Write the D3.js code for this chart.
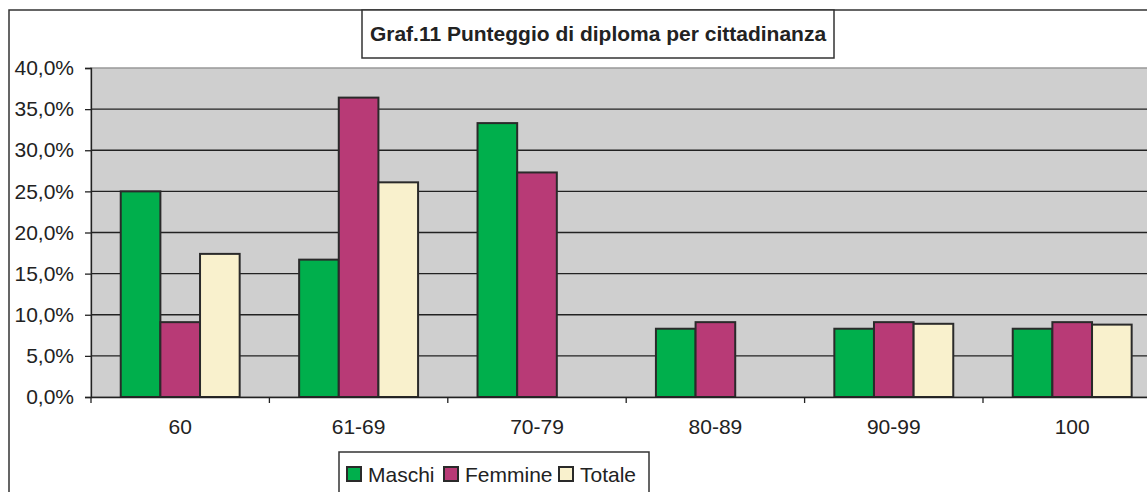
<!DOCTYPE html>
<html lang="it">
<head>
    <meta charset="UTF-8">
    <title>Graf.11</title>
    <style>
        body{
            margin:0px;
            background-color: #ffffff;
        }
        svg{
            display: block;
            font-family: "Liberation Sans", Arial, sans-serif;
        }
    </style>
</head>
<body>
    <svg></svg>

    <script src="https://d3js.org/d3.v7.min.js"></script>
    <script>
        // Data
        var categories = ["60", "61-69", "70-79", "80-89", "90-99", "100"];
        var seriesNames = ["Maschi", "Femmine", "Totale"];
        var maschi  = [25.0, 16.7, 33.3, 8.3, 8.3, 8.3];
        var femmine = [9.1, 36.4, 27.3, 9.1, 9.1, 9.1];
        var totale  = [17.4, 26.1, 0, 0, 8.9, 8.8];
        var yTicks = [0, 5, 10, 15, 20, 25, 30, 35, 40];
        var colors = ["#00af4c", "#b83a76", "#f9f1cd"];

        var width = 1147, height = 492;
        var plot = {left: 91, top: 68, bottom: 397, step: 178.4};
        var fs = "21px";

        let svg = d3.select("svg")
            .attr("width", width)
            .attr("height", height);

        // outer chart frame
        svg.append("rect")
            .attr("x", 9).attr("y", 10)
            .attr("width", 1160).attr("height", 500)
            .attr("fill", "#fff")
            .attr("stroke", "#333").attr("stroke-width", 1.5);

        var x = d3.scaleBand()
            .domain(categories)
            .range([plot.left, plot.left + plot.step * categories.length])
            .padding(0);

        // excel style gap width 150%
        var xs = d3.scaleBand()
            .domain(seriesNames)
            .range([x.bandwidth() * 1.5 / 9, x.bandwidth() * (1 - 1.5 / 9)]);

        var y = d3.scaleLinear().domain([0, 40]).range([plot.bottom, plot.top]);

        // plot background
        svg.append("rect")
            .attr("x", plot.left).attr("y", plot.top)
            .attr("width", x.range()[1] - plot.left)
            .attr("height", plot.bottom - plot.top)
            .attr("fill", "#cfcfcf")
            .attr("stroke", "#999").attr("stroke-width", 1.5);

        // gridlines
        svg.append("g")
            .selectAll("line")
            .data(yTicks.filter(d => d > 0 && d < 40))
            .join("line")
            .attr("x1", plot.left).attr("x2", x.range()[1])
            .attr("y1", d => y(d)).attr("y2", d => y(d))
            .attr("stroke", "#222").attr("stroke-width", 1.3);

        // bars
        var table = categories.map((c, i) => ({cat: c, vals: [maschi[i], femmine[i], totale[i]]}));

        svg.append("g")
            .selectAll("g")
            .data(table)
            .join("g")
            .attr("transform", d => "translate(" + x(d.cat) + ",0)")
            .selectAll("rect")
            .data(d => d.vals.map((v, j) => ({name: seriesNames[j], v: v, j: j})).filter(e => e.v > 0))
            .join("rect")
            .attr("x", d => xs(d.name))
            .attr("width", xs.bandwidth())
            .attr("y", d => y(d.v))
            .attr("height", d => y(0) - y(d.v))
            .attr("fill", d => colors[d.j])
            .attr("stroke", "#2a2a2a").attr("stroke-width", 2);

        // y axis
        var yAxis = d3.axisLeft(y)
            .tickValues(yTicks)
            .tickSize(6)
            .tickPadding(11)
            .tickFormat(d => d3.format(".1f")(d).replace(".", ",") + "%");

        var gy = svg.append("g")
            .attr("transform", "translate(" + plot.left + ",0)")
            .call(yAxis);
        gy.attr("font-size", fs).attr("font-family", null);
        gy.select(".domain").attr("stroke", "#222").attr("stroke-width", 1.3);
        gy.selectAll(".tick line").attr("stroke", "#222").attr("stroke-width", 1.3);
        gy.selectAll("text").attr("fill", "#222");

        // x axis
        var xAxis = d3.axisBottom(x).tickSize(0).tickPadding(22);
        var gx = svg.append("g")
            .attr("transform", "translate(0," + plot.bottom + ")")
            .call(xAxis);
        gx.attr("font-size", fs).attr("font-family", null);
        gx.select(".domain").attr("stroke", "#222").attr("stroke-width", 1.3);
        gx.selectAll("text").attr("fill", "#222");

        // tick marks between categories
        svg.append("g")
            .selectAll("line")
            .data(categories)
            .join("line")
            .attr("x1", d => x(d)).attr("x2", d => x(d))
            .attr("y1", plot.bottom).attr("y2", plot.bottom + 6)
            .attr("stroke", "#222").attr("stroke-width", 1.3);

        // title
        svg.append("rect")
            .attr("x", 362).attr("y", 10)
            .attr("width", 472).attr("height", 48)
            .attr("fill", "#fff")
            .attr("stroke", "#333").attr("stroke-width", 1.5);
        svg.append("text")
            .attr("x", 598).attr("y", 41)
            .attr("text-anchor", "middle")
            .attr("font-size", "21px")
            .attr("font-weight", "bold")
            .attr("fill", "#222")
            .text("Graf.11 Punteggio di diploma per cittadinanza");

        // legend
        svg.append("rect")
            .attr("x", 339).attr("y", 452)
            .attr("width", 310).attr("height", 60)
            .attr("fill", "#fff")
            .attr("stroke", "#333").attr("stroke-width", 1.5);

        var legendX = [347, 444, 559];
        var lg = svg.append("g")
            .selectAll("g")
            .data(seriesNames)
            .join("g")
            .attr("transform", (d, i) => "translate(" + legendX[i] + ",467)");
        lg.append("rect")
            .attr("width", 14).attr("height", 14)
            .attr("fill", (d, i) => colors[i])
            .attr("stroke", "#2a2a2a").attr("stroke-width", 2);
        lg.append("text")
            .attr("x", 21).attr("y", 14.5)
            .attr("font-size", fs)
            .attr("fill", "#222")
            .text(d => d);
    </script>
</body>
</html>
